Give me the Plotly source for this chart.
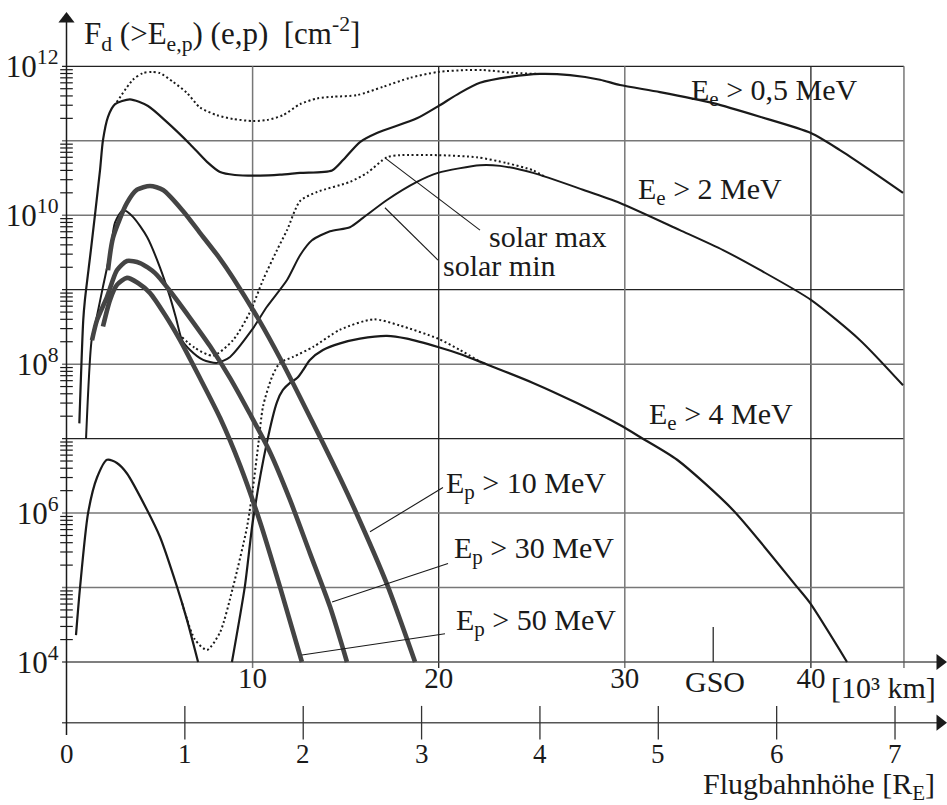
import plotly.graph_objects as go

W, H = 947, 805
RE_KM = 6.36          # 10^3 km per Earth radius, as drawn on the chart

# ---------------- data (x: altitude in 10^3 km, y: fluence in cm^-2) ----------------
# Electrons E_e > 0.5 MeV
e05_min_x = [0.69, 0.90, 0.99, 1.31, 1.80, 1.96, 2.23, 2.61, 3.41, 4.38, 5.40, 6.64, 7.55, 8.25,
             9.05, 10.40, 11.47, 12.55, 14.27, 14.86, 15.77, 16.68, 18.83, 19.96, 21.14, 22.22,
             23.83, 25.44, 27.06, 28.67, 29.74, 31.89, 34.74, 37.26, 40.00, 41.56, 43.02, 44.95]
e05_min_y = [1.6e7, 3.9e8, 7.3e8, 3.4e9, 4.0e10, 1.02e11, 2.1e11, 3.1e11, 3.6e11, 2.93e11, 1.78e11,
             9.0e10, 5.2e10, 3.8e10, 3.47e10, 3.4e10, 3.5e10, 3.7e10, 4.0e10, 5.5e10, 9.6e10, 1.27e11,
             2.0e11, 2.9e11, 4.4e11, 6.0e11, 7.2e11, 7.9e11, 7.6e11, 6.6e11, 5.6e11, 4.5e11, 3.2e11,
             2.1e11, 1.27e11, 7.5e10, 4.3e10, 2.0e10]
e05_max_x = [2.70, 3.57, 4.11, 4.59, 5.02, 5.72, 6.47, 7.17, 8.09, 8.95, 10.02, 10.77, 11.63, 12.55,
             13.46, 14.32, 15.61, 17.01, 18.46, 19.96, 21.52, 22.38, 24.21, 25.44]
e05_max_y = [3.3e11, 6.6e11, 8.1e11, 8.4e11, 8.1e11, 6.2e11, 4.4e11, 2.8e11, 2.2e11, 1.96e11, 1.84e11,
             1.9e11, 2.2e11, 3.1e11, 3.7e11, 3.9e11, 4.1e11, 5.3e11, 7.0e11, 8.4e11, 8.9e11, 8.9e11,
             8.1e11, 7.9e11]
# Electrons E_e > 2 MeV
e2_min_x = [1.05, 1.35, 1.59, 1.96, 2.34, 2.61, 3.04, 3.57, 4.33, 5.02, 5.56, 5.88, 6.21, 6.64, 7.34,
            8.09, 8.79, 9.97, 10.77, 11.85, 12.55, 13.19, 14.16, 15.23, 15.93, 17.22, 18.83, 19.96,
            22.22, 23.30, 25.07, 27.75, 29.74, 32.96, 35.28, 37.26, 40.00, 42.64, 44.95]
e2_min_y = [1.0e7, 2.1e8, 3.9e8, 1.1e9, 3.1e9, 8.0e9, 1.17e10, 9.5e9, 5.1e9, 2.0e9, 8.0e8, 4.2e8,
            2.1e8, 1.55e8, 1.14e8, 1.04e8, 1.25e8, 2.9e8, 5.9e8, 1.35e9, 2.9e9, 4.6e9, 6.1e9, 6.9e9,
            9.2e9, 1.6e10, 2.8e10, 3.7e10, 4.7e10, 4.6e10, 3.7e10, 2.2e10, 1.46e10, 6.3e9, 3.4e9,
            1.84e9, 7.3e8, 2.1e8, 5.2e7]
e2_max_x = [6.21, 6.90, 7.87, 8.95, 9.86, 10.56, 11.31, 11.85, 12.55, 13.46, 15.23, 16.15, 17.22,
            17.92, 19.96, 22.06, 23.67, 25.07, 25.70]
e2_max_y = [2.3e8, 1.65e8, 1.3e8, 2.1e8, 5.0e8, 1.35e9, 3.4e9, 6.3e9, 1.55e10, 2.05e10, 2.8e10,
            3.7e10, 6.0e10, 6.4e10, 6.4e10, 6.0e10, 5.0e10, 4.0e10, 3.3e10]
# Electrons E_e > 4 MeV (inner and outer belt, solar min) and solar max
e4_in_x = [0.51, 0.73, 1.16, 1.64, 2.18, 2.71, 3.25, 4.33, 5.02, 5.94, 6.47, 7.07]
e4_in_y = [2.3e4, 1.02e5, 1.0e6, 3.0e6, 5.2e6, 4.7e6, 3.4e6, 1.1e6, 4.8e5, 1.02e5, 3.7e4, 1.0e4]
e4_out_x = [8.89, 9.58, 10.02, 10.77, 11.31, 11.63, 12.01, 12.39, 12.71, 13.08, 13.78, 14.70, 15.77,
            17.22, 18.30, 19.96, 21.14, 22.38, 25.07, 27.43, 29.74, 30.82, 32.81, 35.81, 39.25,
            39.95, 41.94]
e4_out_y = [1.0e4, 1.02e5, 8.0e5, 8.9e6, 3.1e7, 4.5e7, 5.6e7, 6.5e7, 8.3e7, 1.14e8, 1.55e8, 1.9e8,
            2.2e8, 2.4e8, 2.2e8, 1.7e8, 1.37e8, 1.04e8, 5.6e7, 3.0e7, 1.52e7, 1.05e7, 5.2e6, 1.1e6,
            1.02e5, 6.2e4, 1.0e4]
e4_max_x = [6.21, 6.90, 7.55, 8.25, 8.95, 9.70, 10.02, 10.29, 10.56, 11.04, 11.47, 12.17, 13.25,
            14.70, 16.50, 17.92, 19.96, 21.14, 22.30]
e4_max_y = [6.2e4, 2.0e4, 1.45e4, 2.5e4, 1.02e5, 6.5e5, 2.2e6, 7.7e6, 2.7e7, 6.7e7, 1.04e8, 1.25e8,
            1.7e8, 2.9e8, 4.0e8, 3.3e8, 2.2e8, 1.55e8, 1.05e8]
# Protons
p10_x = [2.23, 2.50, 3.25, 3.79, 4.49, 5.19, 6.26, 7.17, 8.25, 8.95, 10.40, 11.47, 12.55, 13.78,
         14.70, 15.50, 17.22, 18.73]
p10_y = [1.82e9, 5.0e9, 1.46e10, 2.2e10, 2.47e10, 2.18e10, 1.14e10, 5.8e9, 2.6e9, 1.44e9, 3.7e8,
         1.21e8, 3.6e7, 8.7e6, 2.96e6, 1.1e6, 1.11e5, 1.0e4]
p30_x = [1.37, 1.64, 2.18, 2.71, 3.25, 3.95, 4.76, 5.56, 6.64, 7.71, 8.79, 9.86, 10.93, 12.01,
         13.08, 14.16, 15.07]
p30_y = [2.1e8, 3.9e8, 8.0e8, 1.82e9, 2.43e9, 2.28e9, 1.67e9, 9.6e8, 4.16e8, 1.75e8, 6.5e7, 2.14e7,
         6.6e6, 1.5e6, 2.9e5, 5.5e4, 1.0e4]
p50_x = [1.96, 2.34, 2.71, 3.25, 3.84, 4.49, 5.29, 6.10, 7.17, 8.25, 9.32, 10.40, 11.47, 12.65]
p50_y = [3.2e8, 7.3e8, 1.16e9, 1.44e9, 1.23e9, 9.0e8, 4.6e8, 2.1e8, 6.5e7, 1.9e7, 4.4e6, 7.6e5,
         1.02e5, 1.0e4]

# ticks and labels
km_ticks = [10, 20, 30, 40]
km_labels = ["10", "20", "30", "40"]
re_ticks = [0, 1, 2, 3, 4, 5, 6, 7]
y_major = [1e4, 1e6, 1e8, 1e10, 1e12]
y_major_labels = ["10<sup>4</sup>", "10<sup>6</sup>", "10<sup>8</sup>", "10<sup>10</sup>", "10<sup>12</sup>"]
decade_exps = [4, 5, 6, 7, 8, 9, 10, 11, 12]
gso_km = 34.75

# ---------------- layout constants ----------------
X0, PXU = 66.5, 18.61          # pixel of x=0, pixels per 10^3 km
Y12, PXD = 66.3, 74.46         # pixel of 1e12, pixels per decade
XR = [(0 - X0) / PXU, (W - X0) / PXU]
YR = [12 - (H - Y12) / PXD, 12 + Y12 / PXD]
X_END = 45.0
X_ARROW = (940 - X0) / PXU
Y_RE = 10 ** (12 - (722.7 - Y12) / PXD)
Y_AX_BOT = 10 ** (12 - (735 - Y12) / PXD)
Y_AX_TOP = 10 ** (12 + (Y12 - 19) / PXD)
Y_GRID_BOT = 10 ** (12 - (668 - Y12) / PXD)

INK = "#1a1a1a"
PROT = "#444444"
FONT = "Liberation Serif"

fig = go.Figure()

def line(x, y, color=INK, width=2.0, dash="solid", shape="linear", smoothing=0.7):
    fig.add_trace(go.Scatter(x=x, y=y, mode="lines", hoverinfo="skip", showlegend=False,
                             line=dict(color=color, width=width, dash=dash, shape=shape,
                                       smoothing=smoothing)))

# grid
dark_h = [12, 9, 7]
gray_h = [11, 10, 8, 6, 5]
gx, gy = [], []
for e in dark_h:
    gx += [-0.24, X_END, None]; gy += [10.0 ** e, 10.0 ** e, None]
for v in [20, 40]:
    gx += [v, v, None]; gy += [1e12, Y_GRID_BOT, None]
line(gx, gy, color="#222222", width=1.3)
gx, gy = [], []
for e in gray_h:
    gx += [-0.24, X_END, None]; gy += [10.0 ** e, 10.0 ** e, None]
for v in [10, 30, X_END]:
    gx += [v, v, None]; gy += [1e12, Y_GRID_BOT, None]
line(gx, gy, color="#777777", width=1.5)

# axes lines
line([-0.24, X_ARROW], [1e4, 1e4], color="#555555", width=1.5)
line([-0.24, X_ARROW], [Y_RE, Y_RE], color="#555555", width=1.5)
line([0, 0], [Y_AX_BOT, Y_AX_TOP], color=INK, width=1.5)
line([gso_km, gso_km], [1e4, 2.95e4], color=INK, width=1.2)

# arrowheads
fig.add_trace(go.Scatter(x=[X_ARROW, X_ARROW], y=[1e4, Y_RE], mode="markers", hoverinfo="skip",
                         showlegend=False, cliponaxis=False,
                         marker=dict(symbol="triangle-right", size=14, color=INK)))
fig.add_trace(go.Scatter(x=[0], y=[Y_AX_TOP], mode="markers", hoverinfo="skip",
                         showlegend=False, cliponaxis=False,
                         marker=dict(symbol="triangle-up", size=14, color=INK)))

# minor ticks on the y axis
mty = [k * 10.0 ** e for e in decade_exps[:-1] for k in range(2, 10)]
fig.add_trace(go.Scatter(x=[0] * len(mty), y=mty, mode="markers", hoverinfo="skip",
                         showlegend=False, cliponaxis=False,
                         marker=dict(symbol="line-ew", size=9, line=dict(color=INK, width=1.2))))
# ticks on the Earth-radius axis
fig.add_trace(go.Scatter(x=[r * RE_KM for r in re_ticks[1:]], y=[Y_RE] * (len(re_ticks) - 1),
                         mode="markers", hoverinfo="skip", showlegend=False, cliponaxis=False,
                         marker=dict(symbol="line-ns", size=24, line=dict(color="#333333", width=1.3))))

# curves
DOT = "2px,2.6px"
line(e05_max_x, e05_max_y, width=2.0, dash=DOT, shape="spline")
line(e2_max_x, e2_max_y, width=2.0, dash=DOT, shape="spline")
line(e4_max_x, e4_max_y, width=2.0, dash=DOT, shape="spline")
line(e05_min_x, e05_min_y, width=2.2, shape="spline")
line(e2_min_x, e2_min_y, width=2.0, shape="spline")
line(e4_in_x, e4_in_y, width=2.2, shape="spline")
line(e4_out_x, e4_out_y, width=2.2, shape="spline")
line(p10_x, p10_y, color=PROT, width=4.6, shape="spline")
line(p30_x, p30_y, color=PROT, width=4.6, shape="spline")
line(p50_x, p50_y, color=PROT, width=4.6, shape="spline")

# leader lines
leaders = [([17.11, 22.22], [5.9e10, 6.3e9]),
           ([17.11, 19.96], [1.26e10, 2.5e9]),
           ([16.31, 20.23], [5.6e5, 2.2e6]),
           ([14.27, 20.50], [6.4e4, 2.1e5]),
           ([12.65, 20.34], [1.24e4, 2.4e4])]
for lx, ly in leaders:
    line(lx, ly, width=1.1)

# text
def txt(s, xp, yp, xanchor="left", size=30):
    fig.add_annotation(text=s, x=xp / W, y=1 - yp / H, xref="paper", yref="paper",
                       xanchor=xanchor, yanchor="middle", showarrow=False,
                       font=dict(family=FONT, size=size, color=INK))

txt("F<sub>d</sub> (>E<sub>e,p</sub>) (e,p)\u00a0 [cm<sup>-2</sup>]", 82, 34, size=31)
txt("E<sub>e</sub> > 0,5 MeV", 689, 92)
txt("E<sub>e</sub> > 2 MeV", 636, 191)
txt("solar max", 487, 236)
txt("solar min", 441, 265)
txt("E<sub>e</sub> > 4 MeV", 647, 416)
txt("E<sub>p</sub> > 10 MeV", 444, 485)
txt("E<sub>p</sub> > 30 MeV", 452, 550)
txt("E<sub>p</sub> > 50 MeV", 454, 622)
txt("GSO", 715, 681, xanchor="center")
txt("[10³ km]", 829, 687)
txt("Flugbahnhöhe [R<sub>E</sub>]", 937, 786, xanchor="right")
for r in re_ticks:
    fig.add_annotation(text=str(r), x=r * RE_KM, y=1 - 754 / H, xref="x", yref="paper",
                       xanchor="center", yanchor="middle", showarrow=False,
                       font=dict(family=FONT, size=27, color=INK))

fig.update_layout(
    width=W, height=H, margin=dict(l=0, r=0, t=0, b=0),
    paper_bgcolor="white", plot_bgcolor="white", showlegend=False,
    xaxis=dict(range=XR, domain=[0, 1], anchor="free", position=1 - 662 / H,
               showgrid=False, zeroline=False, showline=False, ticks="",
               tickvals=km_ticks, ticktext=km_labels, ticklabelstandoff=-4,
               tickfont=dict(family=FONT, size=29, color=INK)),
    yaxis=dict(type="log", range=YR, domain=[0, 1], anchor="free", position=X0 / W,
               showgrid=False, zeroline=False, showline=False, ticks="",
               tickvals=y_major, ticktext=y_major_labels, ticklabelstandoff=8,
               tickfont=dict(family=FONT, size=31, color=INK)),
)

fig.write_html("out.html")
